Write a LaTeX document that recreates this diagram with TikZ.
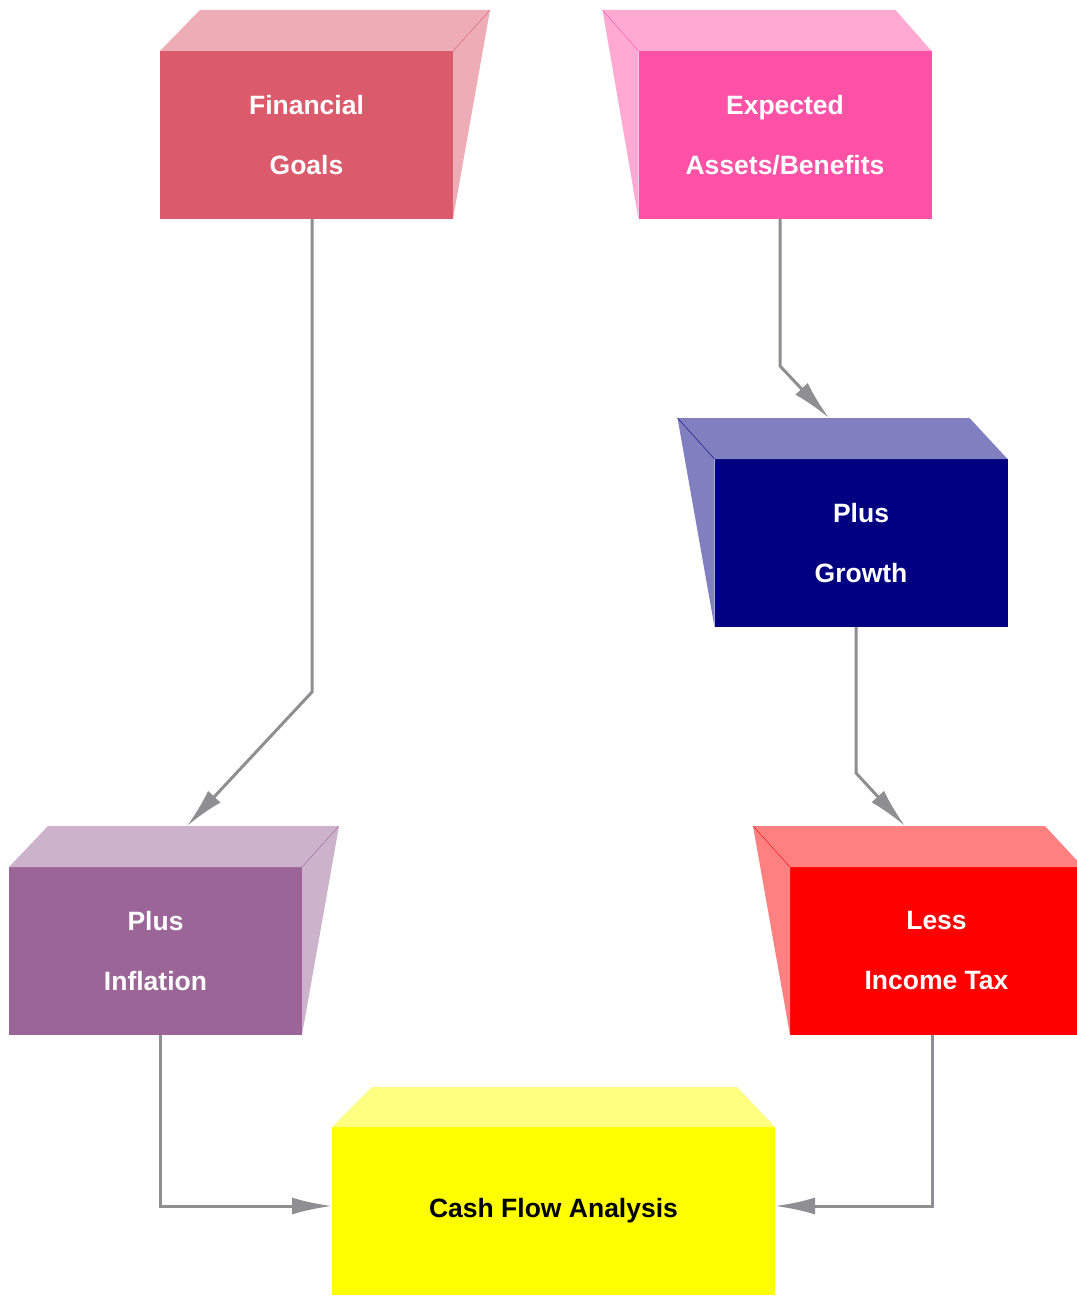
\documentclass[tikz,border=0pt]{standalone}
\usepackage{fontspec}
\setmainfont{Liberation Sans}
\usetikzlibrary{arrows.meta}

\definecolor{goalred}{RGB}{219,90,108}
\definecolor{assetpink}{RGB}{255,82,166}
\definecolor{growthblue}{RGB}{0,0,128}
\definecolor{taxred}{RGB}{255,0,0}
\definecolor{inflpurple}{RGB}{155,101,152}
\definecolor{cashyellow}{RGB}{255,255,0}
\definecolor{linkgray}{RGB}{142,142,147}

\begin{document}
\begin{tikzpicture}[x=1pt,y=-1pt,
    front/.style={rectangle,draw=none,outer sep=0pt,minimum width=293pt,minimum height=168pt,
      align=center,text=white,font=\fontsize{26.5}{60}\selectfont\bfseries},
    link/.style={draw=linkgray,line width=3pt,-{Latex[length=40pt,width=17pt]}}]
  \useasboundingbox (0,0) rectangle (1076,1297);

  % front faces
  \node[front,fill=goalred] (goals) at (306.5,135) {Financial\\Goals};
  \node[front,fill=assetpink] (assets) at (785,135) {Expected\\Assets/Benefits};
  \node[front,fill=growthblue] (growth) at (861,543) {Plus\\Growth};
  \node[front,fill=inflpurple] (inflation) at (155.5,951) {Plus\\Inflation};
  \node[front,fill=taxred] (tax) at (936.5,951) {Less\\Income Tax};
  \node[front,fill=cashyellow,text=black,minimum width=443pt] (cash) at (553.5,1211) {Cash Flow Analysis};

  % top and side faces
  \fill[goalred!50!white] (goals.north west) -- ++(40,-41) -- ++(290,0) -- (goals.north east) -- cycle;
  \fill[goalred!50!white] (goals.north east) -- ++(37,-41) -- (goals.south east) -- cycle;
  \draw[goalred,thin] (goals.north east) -- ++(37,-41);

  \fill[assetpink!50!white] (assets.north west) -- ++(-36,-41) -- ++(293,0) -- (assets.north east) -- cycle;
  \fill[assetpink!50!white] (assets.north west) -- ++(-36,-41) -- (assets.south west) -- cycle;
  \draw[assetpink,thin] (assets.north west) -- ++(-36,-41);

  \fill[growthblue!50!white] (growth.north west) -- ++(-37,-41) -- ++(292,0) -- (growth.north east) -- cycle;
  \fill[growthblue!50!white] (growth.north west) -- ++(-37,-41) -- (growth.south west) -- cycle;
  \draw[growthblue,thin] (growth.north west) -- ++(-37,-41);

  \fill[inflpurple!50!white] (inflation.north west) -- ++(39,-41) -- ++(291,0) -- (inflation.north east) -- cycle;
  \fill[inflpurple!50!white] (inflation.north east) -- ++(37,-41) -- (inflation.south east) -- cycle;
  \draw[inflpurple,thin] (inflation.north east) -- ++(37,-41);

  \fill[taxred!50!white] (tax.north west) -- ++(-37,-41) -- ++(292,0) -- (tax.north east) -- cycle;
  \fill[taxred!50!white] (tax.north west) -- ++(-37,-41) -- (tax.south west) -- cycle;
  \draw[taxred,thin] (tax.north west) -- ++(-37,-41);

  \fill[cashyellow!50!white] (cash.north west) -- ++(40,-40) -- ++(365,0) -- (cash.north east) -- cycle;

  % arrow targets on the top faces
  \coordinate (inflation top) at ([shift={(31.5,-41)}]inflation.north);
  \coordinate (growth top) at ([shift={(-32,-41)}]growth.north);
  \coordinate (tax top) at ([shift={(-31.5,-41)}]tax.north);

  % connectors
  \draw[link] ([xshift=5.5pt]goals.south) -- ++(0,473) -- (inflation top);
  \draw[link] ([xshift=-5pt]assets.south) -- ++(0,147) -- (growth top);
  \draw[link] ([xshift=-5pt]growth.south) -- ++(0,146) -- (tax top);
  \draw[link] ([xshift=4.5pt]inflation.south) |- ([yshift=5pt]cash.west);
  \draw[link] ([xshift=-4.5pt]tax.south) |- ([yshift=5pt]cash.east);
\end{tikzpicture}
\end{document}
